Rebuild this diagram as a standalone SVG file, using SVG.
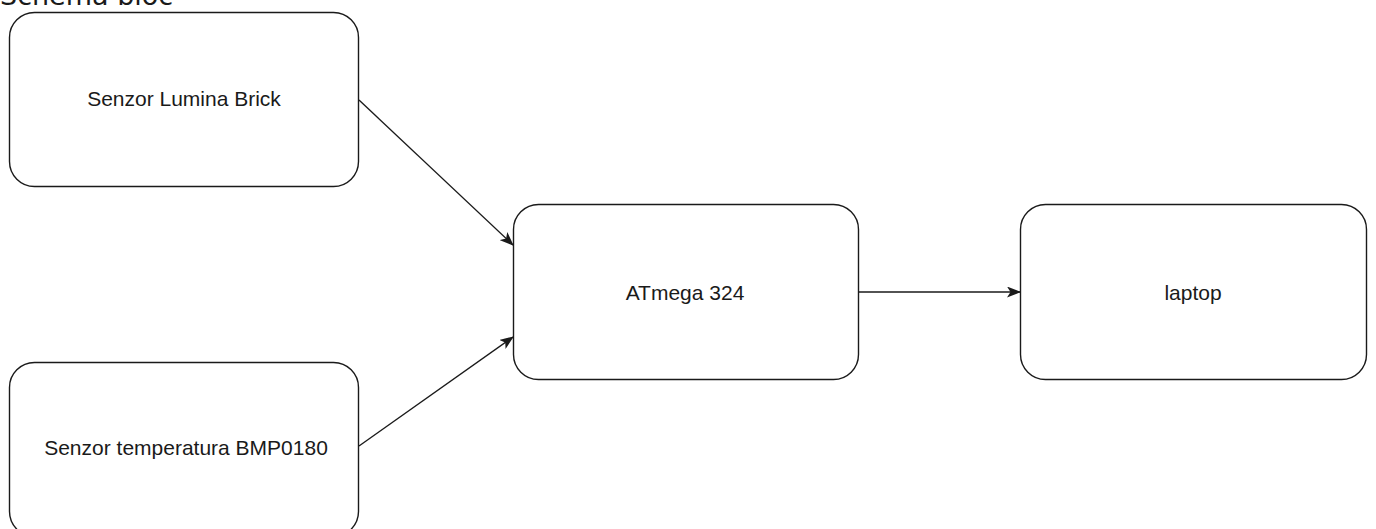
<svg xmlns="http://www.w3.org/2000/svg" width="1376" height="529" viewBox="0 0 1376 529">
<style>
.box{fill:#ffffff;stroke:#1a1a1a;stroke-width:1.4}
.lbl{font-family:"Liberation Sans",Arial,sans-serif;font-size:21px;fill:#1a1a1a;text-anchor:middle;dominant-baseline:central}
.conn{stroke:#1a1a1a;stroke-width:1.3;fill:none;marker-end:url(#arr)}
.title{font-family:"DejaVu Sans",Verdana,sans-serif;font-size:27px;fill:#1a1a1a}
</style>
<defs>
<marker id="arr" viewBox="0 0 14 11" refX="13" refY="5.5" markerWidth="14" markerHeight="11" markerUnits="userSpaceOnUse" orient="auto">
<path d="M0,0 L14,5.5 L0,11 L3.5,5.5 Z" fill="#1a1a1a"/>
</marker>
</defs>
<rect width="1376" height="529" fill="#ffffff"/>
<text class="title" x="0" y="5">Schema bloc</text>
<g id="node-lumina">
<rect class="box" x="9.5" y="12.5" width="349" height="174" rx="25" ry="25"/>
<text class="lbl" x="184" y="98">Senzor Lumina Brick</text>
</g>
<g id="node-temp">
<rect class="box" x="9.5" y="362.5" width="349" height="174" rx="25" ry="25"/>
<text class="lbl" x="186" y="447">Senzor temperatura BMP0180</text>
</g>
<g id="node-atmega">
<rect class="box" x="513.5" y="204.5" width="345" height="175" rx="25" ry="25"/>
<text class="lbl" x="685" y="292">ATmega 324</text>
</g>
<g id="node-laptop">
<rect class="box" x="1020.5" y="204.5" width="346" height="175" rx="25" ry="25"/>
<text class="lbl" x="1193" y="292">laptop</text>
</g>
<g id="connectors">
<line class="conn" x1="359" y1="100" x2="513" y2="245"/>
<line class="conn" x1="359" y1="446" x2="513" y2="337"/>
<line class="conn" x1="859" y1="292" x2="1020" y2="292"/>
</g>
</svg>
